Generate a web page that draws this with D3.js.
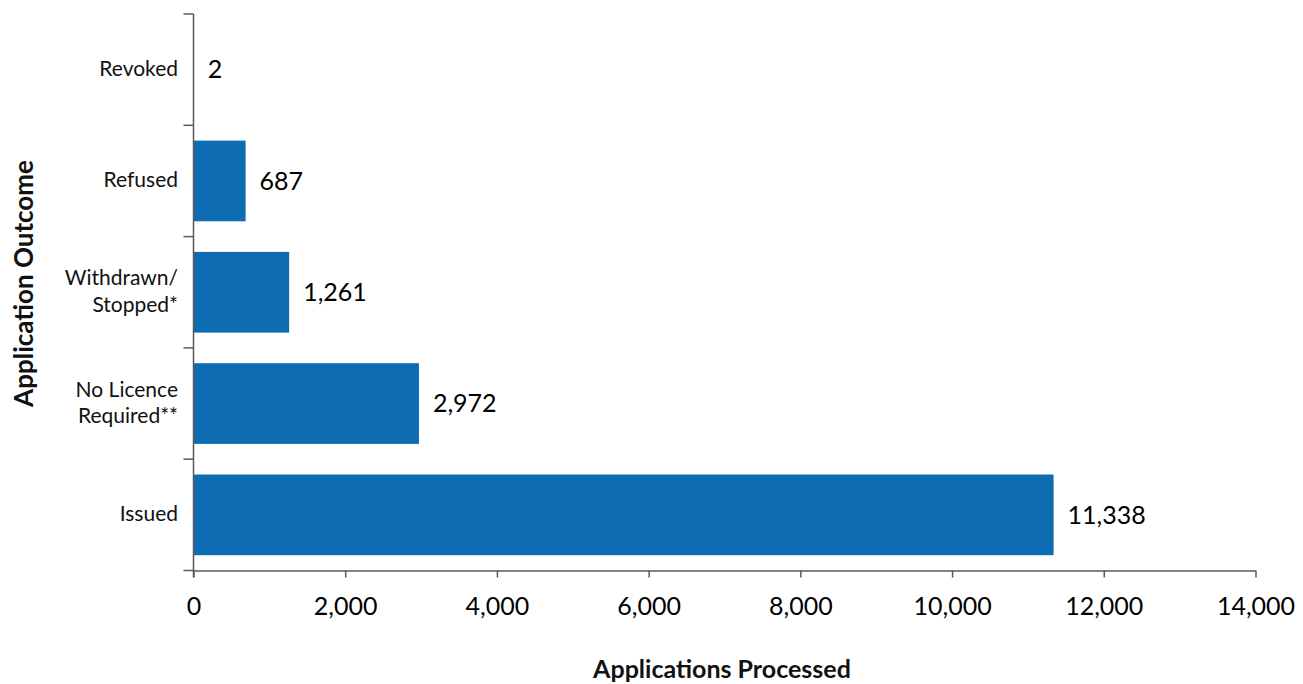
<!DOCTYPE html>
<html>
<head>
<meta charset="utf-8">
<script src="https://cdn.jsdelivr.net/npm/d3@7"></script>
<style>
  html, body { margin: 0; padding: 0; background: #fff; }
  svg { display: block; font-family: Lato, "Open Sans", sans-serif; }
</style>
</head>
<body>
<svg id="chart" width="1303" height="684"></svg>
<script>
// Application outcomes, top to bottom
const categories = ["Revoked", "Refused", "Withdrawn/\nStopped*", "No Licence\nRequired**", "Issued"];
const values = [2, 687, 1261, 2972, 11338];
const xTicks = [0, 2000, 4000, 6000, 8000, 10000, 12000, 14000];

const svg = d3.select("#chart");
const plot = { left: 193.5, right: 1255.5, top: 14, bottom: 570.5 };
const axisColor = "#5a5a5a";
const barColor = "#0e6cb2";
const fmt = d3.format(",");

const x = d3.scaleLinear().domain([0, 14000]).range([plot.left, plot.right]);
const y = d3.scaleBand()
  .domain(categories)
  .range([plot.top, plot.bottom])
  .paddingInner(0.275)
  .paddingOuter(0.1375);

// Bars
svg.append("g").selectAll("rect")
  .data(categories)
  .join("rect")
  .attr("x", x(0))
  .attr("y", d => y(d))
  .attr("width", (d, i) => x(values[i]) - x(0))
  .attr("height", y.bandwidth())
  .attr("fill", barColor);

// Value labels
svg.append("g").selectAll("text")
  .data(categories)
  .join("text")
  .attr("x", (d, i) => x(values[i]) + 14)
  .attr("y", d => y(d) + y.bandwidth() / 2)
  .attr("dy", "0.35em")
  .attr("font-size", 25)
  .attr("fill", "#000")
  .text((d, i) => fmt(values[i]));

// X axis
const xAxis = svg.append("g")
  .attr("transform", `translate(0,${plot.bottom})`)
  .call(d3.axisBottom(x).tickValues(xTicks).tickFormat(fmt).tickSize(7).tickPadding(20).tickSizeOuter(0));
xAxis.select(".domain").attr("stroke", axisColor).attr("stroke-width", 1.5);
xAxis.selectAll(".tick line").attr("stroke", axisColor).attr("stroke-width", 1.5);
xAxis.selectAll(".tick text")
  .attr("font-size", 25)
  .attr("font-family", "Lato, 'Open Sans', sans-serif")
  .attr("fill", "#000");

// Y axis line and boundary ticks between categories
const step = y.step();
const gap = step - y.bandwidth();
const bounds = categories.map(d => y(d) - gap / 2)
  .concat([y(categories[categories.length - 1]) + y.bandwidth() + gap / 2]);
const yAxis = svg.append("g");
yAxis.append("line")
  .attr("x1", plot.left).attr("x2", plot.left)
  .attr("y1", plot.top).attr("y2", plot.bottom + 7)
  .attr("stroke", axisColor).attr("stroke-width", 1.5);
yAxis.selectAll("line.tick")
  .data(bounds)
  .join("line")
  .attr("class", "tick")
  .attr("x1", plot.left - 10).attr("x2", plot.left)
  .attr("y1", d => d).attr("y2", d => d)
  .attr("stroke", axisColor).attr("stroke-width", 1.5);

// Category labels (may span two lines)
const lineH = 26.5;
yAxis.selectAll("text.cat")
  .data(categories)
  .join("text")
  .attr("class", "cat")
  .attr("text-anchor", "end")
  .attr("font-size", 21)
  .attr("fill", "#111")
  .each(function(d) {
    const lines = d.split("\n");
    const cy = y(d) + y.bandwidth() / 2;
    const t = d3.select(this);
    lines.forEach((ln, i) => {
      t.append("tspan")
        .attr("x", 178)
        .attr("y", cy + (i - (lines.length - 1) / 2) * lineH)
        .attr("dy", "0.3em")
        .text(ln);
    });
  });

// Axis titles
svg.append("text")
  .attr("x", 722)
  .attr("y", 678)
  .attr("text-anchor", "middle")
  .attr("font-size", 25)
  .attr("font-weight", "bold")
  .attr("fill", "#111")
  .text("Applications Processed");

svg.append("text")
  .attr("transform", "translate(33,283.5) rotate(-90)")
  .attr("text-anchor", "middle")
  .attr("font-size", 26)
  .attr("font-weight", "bold")
  .attr("fill", "#111")
  .text("Application Outcome");
</script>
</body>
</html>
